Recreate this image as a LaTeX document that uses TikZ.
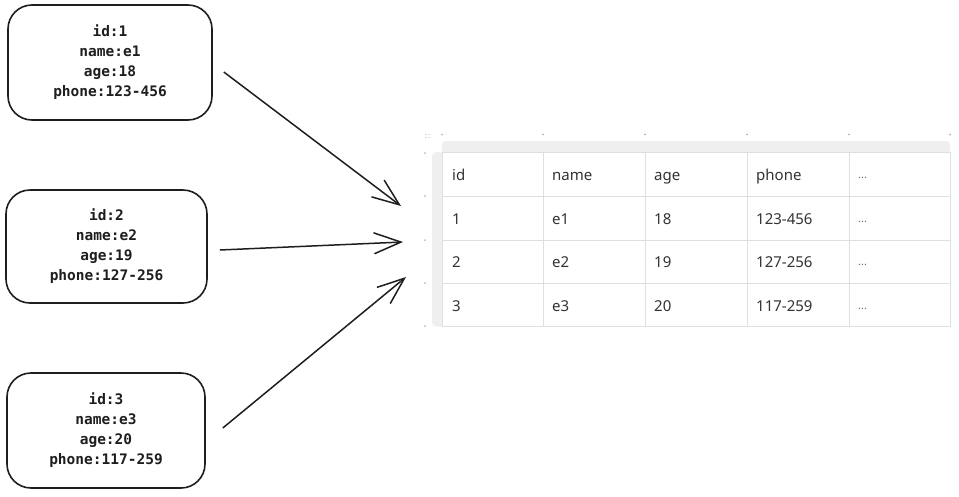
\documentclass[tikz,border=0pt]{standalone}
\usepackage{fontspec}
\setmainfont{Noto Sans}
\newfontfamily\monofont{DejaVu Sans Mono}
\usetikzlibrary{arrows.meta}
\definecolor{ink}{HTML}{1E1E1E}
\definecolor{cellline}{HTML}{DCDFE4}
\definecolor{celltext}{HTML}{333333}
\definecolor{handle}{HTML}{EFEFF0}
\definecolor{dotgrey}{HTML}{B8B8B8}
\tikzstyle{record} = [rectangle, rounded corners=24pt, draw=ink, line width=1.6pt, align=center, font=\monofont\bfseries\fontsize{14.5}{20}\selectfont, text=ink, inner sep=0pt]
\tikzstyle{arrow} = [draw=ink, line width=1.5pt, -{Straight Barb[length=27pt,width=21pt]}]
\tikzstyle{cell} = [anchor=base west, font=\fontsize{15}{17}\selectfont, text=celltext, inner sep=0pt]
\tikzstyle{dot} = [fill=dotgrey, draw=none]

\begin{document}
\begin{tikzpicture}[x=1pt, y=-1pt]
	\useasboundingbox (0,0) rectangle (959,496);
	% records
	\node [record, minimum width=204pt, minimum height=115pt] (rec1) at (110,62.5) {id:1\\name:e1\\age:18\\phone:123-456};
	\node [record, minimum width=201pt, minimum height=113pt] (rec2) at (106.5,246.5) {id:2\\name:e2\\age:19\\phone:127-256};
	\node [record, minimum width=198pt, minimum height=115pt] (rec3) at (106,430.5) {id:3\\name:e3\\age:20\\phone:117-259};
	
	% table
	\fill [handle, rounded corners=4pt] (442,141) rectangle (950,160);
	\fill [handle, rounded corners=4pt] (432,152) rectangle (450,326.5);
	\node [draw=cellline, fill=white, line width=0.8pt, minimum width=508pt, minimum height=174.5pt, inner sep=0pt] (tbl) at (696,239.25) {};
	\foreach \x in {543,645,747,849}
		\draw [cellline, line width=0.8pt] (\x,152) -- (\x,326.5);
	\foreach \y in {196,240,283}
		\draw [cellline, line width=0.8pt] (442,\y) -- (950,\y);
	\foreach \y/\ca/\cb/\cc/\cd [count=\r] in {174/id/name/age/phone, 218/1/e1/18/123-456, 261.5/2/e2/19/127-256, 305/3/e3/20/117-259} {
		\node [cell] (cell\r-1) at (452,\y+6) {\ca};
		\node [cell] (cell\r-2) at (552,\y+6) {\cb};
		\node [cell] (cell\r-3) at (654,\y+6) {\cc};
		\node [cell] (cell\r-4) at (756,\y+6) {\cd};
		\node [cell, font=\fontsize{11}{13}\selectfont, text=celltext!70] (cell\r-5) at (858,\y+4) {...};
	}
	% editor handles
	\foreach \x in {442,543,645,747,849,950}
		\fill [dot] (\x,134.5) circle (1pt);
	\foreach \y in {153,196,240,283,326}
		\fill [dot] (425,\y) circle (1pt);
	\foreach \x in {426,429}
		\foreach \y in {134.5,137.5}
			\fill [dot] (\x,\y) circle (0.6pt);
	
	% arrows
	\coordinate (in1) at (401,206);
	\coordinate (in2) at (403,242);
	\coordinate (in3) at (406,277);
	\draw [arrow] ([xshift=11pt,yshift=-9.5pt]rec1.east) -- (in1);
	\draw [arrow] ([xshift=12pt,yshift=-3.5pt]rec2.east) -- (in2);
	\draw [arrow] ([xshift=17pt,yshift=2.5pt]rec3.east) -- (in3);
\end{tikzpicture}
\end{document}
